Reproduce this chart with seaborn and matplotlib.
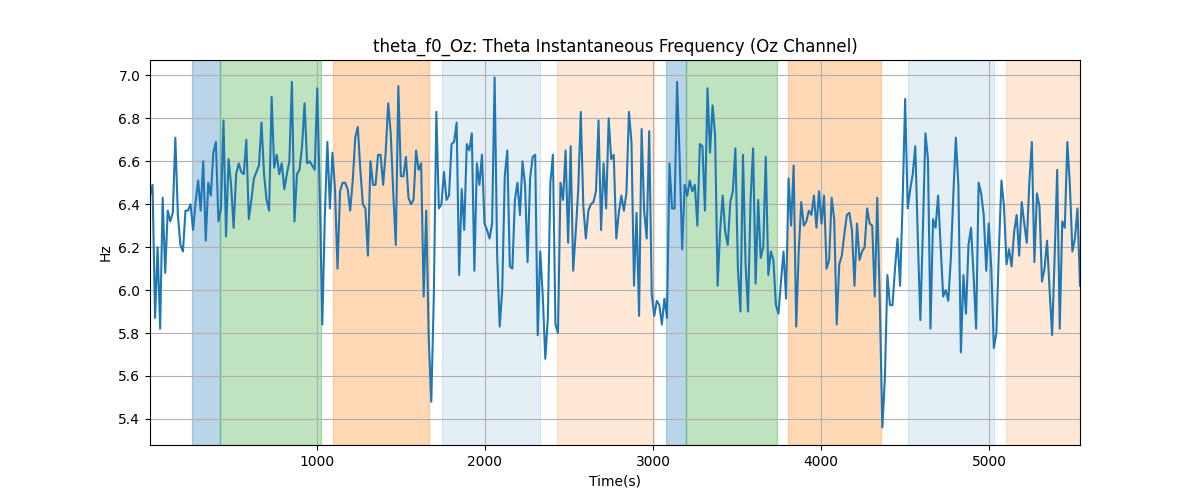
import numpy as np
import matplotlib
matplotlib.use("Agg")
import matplotlib.pyplot as plt
import seaborn as sns

# theta f0 (Hz)
hz_part1 = [6.44, 6.49, 5.87, 6.20, 5.82, 6.43, 6.08, 6.37, 6.32, 6.36, 6.71, 6.35, 6.21, 6.18, 6.37, 6.37,
            6.40, 6.28, 6.41, 6.51, 6.37, 6.60, 6.23, 6.50, 6.44, 6.64, 6.69, 6.32, 6.38, 6.79, 6.25, 6.61,
            6.49, 6.29, 6.54, 6.59, 6.55, 6.54, 6.70, 6.33, 6.42, 6.52, 6.55, 6.58, 6.78, 6.54, 6.42, 6.37,
            6.90, 6.57, 6.63, 6.54, 6.59, 6.47, 6.54, 6.60, 6.97, 6.32, 6.54, 6.56, 6.67, 6.87, 6.59, 6.60,
            6.58, 6.56, 6.94, 6.44, 5.84, 6.35, 6.69, 6.38, 6.64, 6.47, 6.10, 6.46, 6.50, 6.50, 6.47, 6.37,
            6.51, 6.71, 6.76, 6.56, 6.40, 6.38, 6.16, 6.60, 6.49, 6.49, 6.63, 6.63, 6.49, 6.64, 6.87, 6.73,
            6.45, 6.21, 6.95, 6.53, 6.53, 6.62, 6.43, 6.40, 6.42, 6.65, 6.56, 6.59, 5.97, 6.37, 5.77, 5.48,
            5.97, 6.83, 6.38, 6.40, 6.55, 6.42, 6.44, 6.68, 6.69, 6.78, 6.07, 6.47, 6.28, 6.68, 6.65]
hz_part2 = [6.73, 6.09, 6.59, 6.49, 6.63, 6.31, 6.28, 6.24, 6.31, 6.99, 6.16, 5.83, 6.00, 6.53, 6.65, 6.11,
            6.10, 6.42, 6.50, 6.35, 6.60, 6.49, 6.13, 6.52, 6.62, 6.63, 5.79, 6.18, 5.97, 5.68, 5.87, 6.50,
            6.63, 5.84, 5.80, 6.50, 6.42, 6.65, 6.22, 6.67, 6.09, 6.27, 6.47, 6.83, 6.39, 6.24, 6.37, 6.40,
            6.41, 6.46, 6.79, 6.28, 6.59, 6.38, 6.80, 6.61, 6.63, 6.24, 6.36, 6.44, 6.37, 6.45, 6.83, 6.69,
            6.02, 6.36, 5.88, 6.75, 6.37, 6.24, 6.74, 5.98, 5.88, 5.95, 5.93, 5.84, 5.96, 5.87, 6.59, 6.38,
            6.38, 6.97, 6.62, 6.19, 6.49, 6.44, 6.51, 6.46, 6.49, 6.30, 6.68, 6.67, 6.37, 6.94, 6.64, 6.86,
            6.72, 6.02, 6.28, 6.44, 6.27, 6.21, 6.41, 6.46, 6.66, 6.10, 5.90, 6.63, 6.13, 5.90, 6.42, 6.66,
            6.03, 6.42, 6.15, 6.20, 6.62, 6.07, 6.18, 6.14, 5.93, 5.89, 6.04, 6.18, 5.96, 6.52, 6.30]
hz_part3 = [6.58, 5.83, 6.18, 6.41, 6.30, 6.32, 6.37, 6.35, 6.44, 6.29, 6.46, 6.31, 6.44, 6.10, 6.14, 6.43,
            6.33, 5.84, 6.12, 6.16, 6.26, 6.35, 6.36, 6.28, 6.02, 6.31, 6.14, 6.18, 6.20, 6.38, 6.31, 6.30,
            5.97, 6.43, 5.94, 5.36, 5.59, 6.07, 5.93, 5.93, 6.10, 6.24, 6.02, 6.41, 6.89, 6.38, 6.47, 6.54,
            6.67, 6.24, 5.86, 6.28, 6.73, 6.61, 5.82, 6.33, 6.29, 6.44, 6.20, 5.97, 6.00, 5.95, 6.14, 6.44,
            6.71, 6.49, 5.71, 6.07, 5.89, 6.21, 6.29, 6.07, 5.82, 6.50, 6.45, 6.35, 6.09, 6.31, 6.10, 5.73,
            5.80, 6.19, 6.51, 6.39, 6.12, 6.19, 6.11, 6.27, 6.35, 6.16, 6.41, 6.31, 6.22, 6.50, 6.69, 6.13,
            6.45, 6.39, 6.04, 6.10, 6.23, 6.00, 5.79, 6.16, 6.56, 5.82, 6.32, 6.29, 6.69, 6.49, 6.18, 6.24,
            6.38, 6.02]
hz = np.array(hz_part1 + hz_part2 + hz_part3)

t_start, t_end = 6, 5542
time_s = np.linspace(t_start, t_end, len(hz))

# segmenty (start, koniec, kolor, alpha)
seg_start = [256, 423, 1095, 1744, 2429, 3077, 3196, 3804, 4518, 5101]
seg_end = [423, 1024, 1667, 2327, 3006, 3196, 3738, 4357, 5028, 5600]
seg_color = ["C0", "C2", "C1", "C0", "C1", "C0", "C2", "C1", "C0", "C1"]
seg_alpha = [0.3, 0.3, 0.3, 0.12, 0.17, 0.3, 0.3, 0.3, 0.12, 0.17]

fig, ax = plt.subplots(figsize=(12, 5), dpi=100)

for s, e, c, a in zip(seg_start, seg_end, seg_color, seg_alpha):
    ax.axvspan(s, e, color=c, alpha=a)

sns.lineplot(x=time_s, y=hz, ax=ax, color="C0", linewidth=1.5)

ax.set_xlim(t_start, t_end)
ax.grid(True)
ax.set_title("theta_f0_Oz: Theta Instantaneous Frequency (Oz Channel)")
ax.set_xlabel("Time(s)")
ax.set_ylabel("Hz")

plt.savefig("out.png")
plt.close()
